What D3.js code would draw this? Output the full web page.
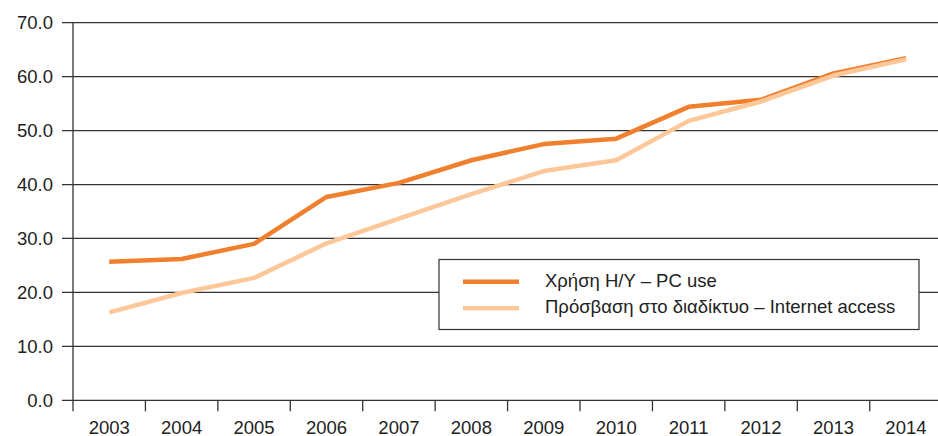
<!DOCTYPE html>
<html>
<head>
<meta charset="utf-8">
<script src="https://cdn.jsdelivr.net/npm/d3@7"></script>
<style>
  html, body { margin: 0; padding: 0; background: #fff; }
  svg { display: block; font-family: "Liberation Sans", Arial, sans-serif; }
</style>
</head>
<body>
<svg id="chart" width="938" height="436"></svg>
<script>
// Years on the horizontal axis
const years = ["2003", "2004", "2005", "2006", "2007", "2008", "2009", "2010", "2011", "2012", "2013", "2014"];
// Share of population (%)
const pcUse = [25.7, 26.2, 29.0, 37.7, 40.3, 44.5, 47.5, 48.5, 54.4, 55.7, 60.6, 63.4];
const internetAccess = [16.3, 19.9, 22.7, 29.1, 33.7, 38.2, 42.5, 44.5, 51.8, 55.4, 60.2, 63.2];
// Y-axis ticks
const yTicks = [0, 10, 20, 30, 40, 50, 60, 70];
// Legend labels
const seriesNames = ["Χρήση Η/Υ – PC use", "Πρόσβαση στο διαδίκτυο – Internet access"];

const colors = ["#f0802d", "#fdc899"];

const svg = d3.select("#chart");
const W = 938;
const plotLeft = 73, plotTop = 22.7, plotBottom = 400.3;
const fontSize = 18.5;

const x = d3.scaleBand().domain(years).range([plotLeft, plotLeft + 12 * 72.43]).padding(0);
const y = d3.scaleLinear().domain([0, 70]).range([plotBottom, plotTop]);

// Horizontal gridlines
svg.append("g")
  .selectAll("line")
  .data(yTicks)
  .join("line")
  .attr("x1", plotLeft - 11).attr("x2", W)
  .attr("y1", d => y(d)).attr("y2", d => y(d))
  .attr("stroke", "#333").attr("stroke-width", 1.3);

// Y-axis labels
svg.append("g")
  .selectAll("text")
  .data(yTicks)
  .join("text")
  .attr("x", plotLeft - 20)
  .attr("y", d => y(d))
  .attr("dy", "0.35em")
  .attr("text-anchor", "end")
  .attr("font-size", fontSize)
  .attr("fill", "#222")
  .text(d => d3.format(".1f")(d));

// Vertical axis line
svg.append("line")
  .attr("x1", plotLeft).attr("x2", plotLeft)
  .attr("y1", plotTop).attr("y2", plotBottom + 11)
  .attr("stroke", "#333").attr("stroke-width", 1.3);

// X-axis tick marks between categories
svg.append("g")
  .selectAll("line")
  .data(years.slice(1))
  .join("line")
  .attr("x1", d => x(d)).attr("x2", d => x(d))
  .attr("y1", plotBottom).attr("y2", plotBottom + 11)
  .attr("stroke", "#333").attr("stroke-width", 1.3);

// X-axis labels
svg.append("g")
  .selectAll("text")
  .data(years)
  .join("text")
  .attr("x", d => x(d) + x.bandwidth() / 2)
  .attr("y", 433.5)
  .attr("text-anchor", "middle")
  .attr("font-size", fontSize)
  .attr("fill", "#222")
  .text(d => d);

// Series lines
const line = d3.line()
  .x((d, i) => x(years[i]) + x.bandwidth() / 2)
  .y(d => y(d));

[pcUse, internetAccess].forEach((s, k) => {
  svg.append("path")
    .datum(s)
    .attr("d", line)
    .attr("fill", "none")
    .attr("stroke", colors[k])
    .attr("stroke-width", 4.5)
    .attr("stroke-linejoin", "round");
});

// Legend
const lg = svg.append("g");
lg.append("rect")
  .attr("x", 439).attr("y", 259.5)
  .attr("width", 480).attr("height", 70)
  .attr("fill", "#fff").attr("stroke", "#333").attr("stroke-width", 1.2);

seriesNames.forEach((name, k) => {
  const ly = 281.7 + k * 26.6;
  lg.append("line")
    .attr("x1", 463).attr("x2", 519)
    .attr("y1", ly).attr("y2", ly)
    .attr("stroke", colors[k]).attr("stroke-width", 4.5);
  lg.append("text")
    .attr("x", 545).attr("y", ly + 4.8)
    .attr("font-size", fontSize)
    .attr("fill", "#222")
    .text(name);
});
</script>
</body>
</html>
